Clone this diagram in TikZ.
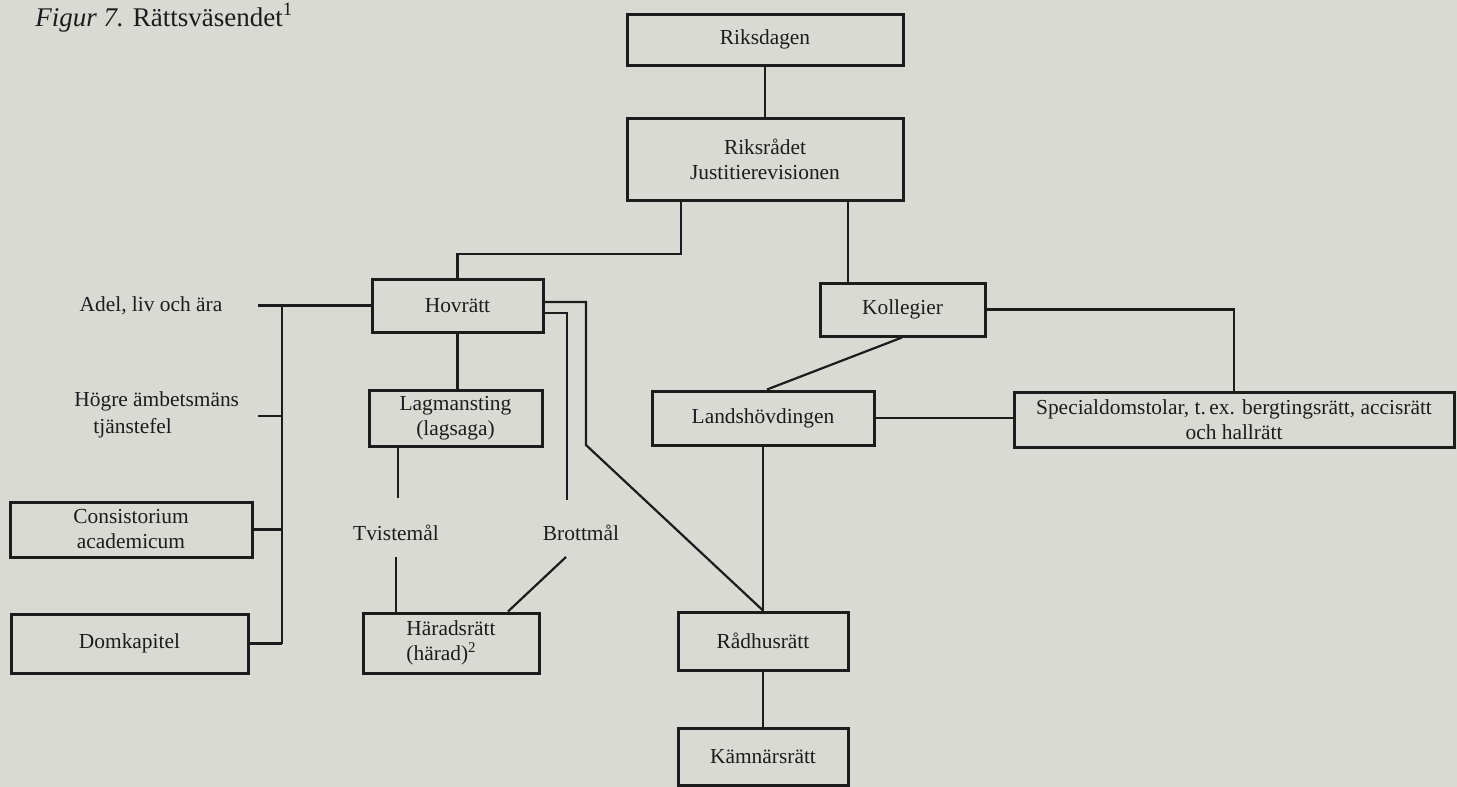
\documentclass[tikz,border=0pt]{standalone}
\usepackage{fontspec}
\setmainfont{Liberation Serif}
\usetikzlibrary{calc}
\definecolor{paper}{RGB}{218,218,212}
\definecolor{ink}{RGB}{28,28,28}
\begin{document}
\begin{tikzpicture}[x=0.5pt,y=-0.5pt,
  every node/.style={font=\fontsize{10.7pt}{12.5pt}\selectfont, text=ink},
  box/.style 2 args={draw=ink, line width=1.5pt, inner sep=0pt, fill=paper, align=center,
    minimum width=#1*0.5pt, minimum height=#2*0.5pt},
  conn/.style={draw=ink, line width=1.1pt},
  lbl/.style={inner sep=0pt, align=center}]
\fill[paper] (0,0) rectangle (1457,787);
\useasboundingbox (0,0) rectangle (1457,787);

\node[anchor=base west, inner sep=0pt, font=\fontsize{13.5pt}{16pt}\selectfont] (caption) at (35,26) {\textit{Figur 7.} Rättsväsendet\textsuperscript{1}};

\node[box={276}{51}] (riksdagen) at (765,39.5) {Riksdagen};
\node[box={276}{82}] (riksrad) at (765,159) {Riksrådet\\Justitierevisionen};
\node[box={171}{53}] (hov) at (457.5,305.5) {Hovrätt};
\node[box={165}{53}] (kol) at (902.5,309.5) {Kollegier};
\node[box={173}{56}] (lag) at (455.5,418) {Lagmansting\\(lagsaga)};
\node[box={222}{54}] (land) at (763,418) {Landshövdingen};
\node[box={440}{55}] (spec) at (1234,419.5) {Specialdomstolar, t.\,ex. bergtingsrätt, accisrätt\\och hallrätt};
\node[box={242}{55}] (cons) at (131,529.5) {Consistorium\\academicum};
\node[box={237}{59}] (dom) at (129.5,643.5) {Domkapitel};
\node[box={176}{60}, align=left] (har) at (451,643) {Häradsrätt\\(härad)\textsuperscript{2}};
\node[box={170}{58}] (rad) at (763,641) {Rådhusrätt};
\node[box={170}{57}] (kam) at (763,756.5) {Kämnärsrätt};

\node[lbl] (adel) at (151,306) {Adel, liv och ära};
\node[lbl, anchor=west, align=left, font=\fontsize{10.7pt}{13.5pt}\selectfont] (hogre) at (74,414.5) {Högre ämbetsmäns\\\hspace*{9.5pt}tjänstefel};
\node[lbl] (tvist) at (396,533) {Tvistemål};
\node[lbl] (brott) at (581,533) {Brottmål};

\draw[conn] (riksdagen.south) -- (riksrad.north);
\coordinate (rl) at (681,254);
\draw[conn] (riksrad.south -| rl) -- (rl) -| (hov.north);
\coordinate (rr) at (848,0);
\draw[conn] (riksrad.south -| rr) -- (kol.north -| rr);
\coordinate (a1) at (258,305.5);
\coordinate (vtop) at (282,305.5);
\coordinate (vbot) at (282,643.5);
\draw[conn] (a1) -- (hov.west);
\draw[conn] (vtop) -- (vbot);
\coordinate (h1) at (258,416);
\draw[conn] (h1) -- (h1 -| vtop);
\draw[conn] (cons.east) -- (cons.east -| vtop);
\draw[conn] (dom.east) -- (vbot);
\draw[conn] (hov.south) -- (hov.south |- lag.north);
\coordinate (t1) at (398,498);
\draw[conn] (lag.south -| t1) -- (t1);
\coordinate (t2) at (396,557);
\draw[conn] (t2) -- (t2 |- har.north);
\coordinate (b1) at (567,500);
\draw[conn] ([yshift=-3.75pt]hov.east) -| (b1);
\coordinate (b2) at (586,445);
\draw[conn] ([yshift=1.75pt]hov.east) -| (b2) -- (rad.north);
\coordinate (b3) at (566,557);
\coordinate (b4) at (508,0);
\draw[conn] (b3) -- (har.north -| b4);
\coordinate (k1) at (902,0);
\coordinate (k2) at (767,0);
\draw[conn] (kol.south -| k1) -- (land.north -| k2);
\draw[conn] (kol.east) -| (spec.north);
\draw[conn] (land.east) -- (land.east -| spec.west);
\draw[conn] (land.south) -- (rad.north);
\draw[conn] (rad.south) -- (kam.north);
\end{tikzpicture}
\end{document}
